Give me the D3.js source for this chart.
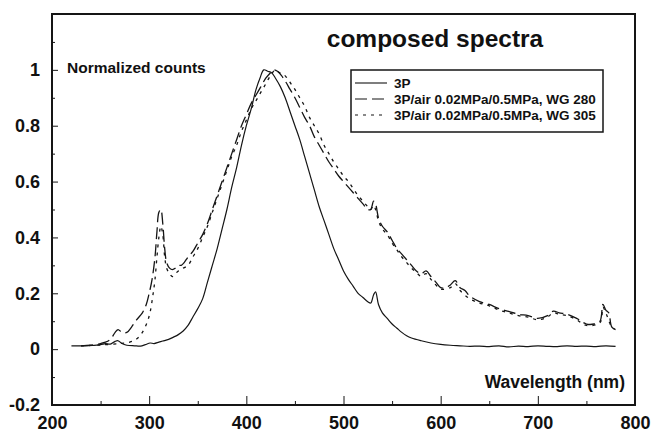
<!DOCTYPE html>
<html><head><meta charset="utf-8">
<script src="https://cdn.jsdelivr.net/npm/d3@7/dist/d3.min.js"></script>
<style>
body{margin:0;background:#fff}
text{font-family:"Liberation Sans",Arial,Helvetica,sans-serif;font-weight:bold;fill:#111}
</style>
</head><body>
<svg id="chart" width="652" height="432"></svg>
<script>
// ---- data ----
const seriesNames = ["3P", "3P/air 0.02MPa/0.5MPa, WG 280", "3P/air 0.02MPa/0.5MPa, WG 305"];

const wl3P = [220,230,240,250,255,260,265,268,272,277,285,291,296,301,305,310,314,320,325,330,335,340,345,350,355,360,365,370,375,380,385,390,395,400,405,410,414,418,422,426,430,435,440,445,450,455,460,465,470,475,480,485,490,495,500,505,510,515,520,525,528,531,533,536,540,545,550,555,560,565,570,580,590,600,610,620,630,640,650,660,670,680,690,700,710,720,730,740,750,760,770,780];
const val3P = [.012,.012,.013,.016,.02,.018,.028,.03,.02,.014,.012,.011,.016,.022,.02,.025,.029,.035,.043,.052,.065,.085,.115,.145,.18,.24,.30,.36,.43,.50,.58,.65,.73,.80,.86,.93,.97,1.0,.995,.99,.97,.94,.90,.85,.80,.75,.69,.63,.57,.51,.46,.41,.36,.32,.28,.25,.225,.20,.185,.17,.165,.195,.205,.16,.13,.11,.09,.075,.06,.048,.04,.03,.022,.017,.014,.012,.01,.011,.009,.012,.008,.011,.009,.012,.01,.009,.012,.01,.011,.009,.012,.01];

const wl280 = [230,240,250,255,260,265,268,272,277,282,287,293,297,300,303,306,308,310,312,314,316,318,321,324,327,330,333,336,340,345,350,355,360,365,370,375,380,385,390,395,400,405,410,415,420,425,428,432,436,440,445,450,455,460,465,470,475,480,485,490,495,500,505,510,515,520,525,528,531,533,536,540,545,550,555,560,565,570,575,580,585,590,595,600,605,610,615,620,625,630,640,650,660,670,680,690,700,710,716,722,730,740,750,758,764,767,770,773,776,780];
const val280 = [.012,.014,.02,.025,.035,.06,.07,.06,.06,.08,.105,.13,.16,.2,.25,.33,.42,.49,.50,.45,.36,.31,.29,.285,.29,.30,.30,.31,.33,.35,.38,.41,.45,.50,.55,.60,.65,.70,.75,.80,.84,.88,.91,.94,.97,.99,1.0,.995,.98,.96,.93,.90,.865,.83,.80,.76,.73,.70,.67,.645,.62,.60,.58,.56,.54,.52,.50,.50,.53,.52,.47,.44,.42,.39,.36,.34,.32,.30,.28,.27,.28,.26,.24,.22,.22,.23,.245,.22,.21,.19,.17,.16,.145,.135,.125,.12,.11,.12,.136,.13,.125,.11,.09,.09,.10,.16,.14,.13,.08,.07];

const wl305 = [230,250,270,280,287,293,298,301,304,306,308,310,312,314,316,318,321,324,327,330,335,340,345,350,355,360,365,370,375,380,385,390,395,400,405,410,415,420,425,430,434,438,442,446,450,455,460,465,470,475,480,485,490,495,500,505,510,515,520,525,528,531,533,536,540,545,550,555,560,565,570,575,580,585,590,595,600,610,615,620,630,640,650,660,670,680,690,700,710,716,722,730,740,750,764,767,770,776,780];
const val305 = [.012,.015,.02,.025,.036,.06,.097,.133,.197,.25,.33,.40,.44,.41,.33,.29,.27,.26,.27,.28,.29,.30,.33,.36,.40,.44,.49,.54,.59,.64,.69,.73,.78,.82,.86,.89,.92,.95,.98,1.0,.99,.985,.97,.95,.93,.90,.87,.83,.80,.77,.73,.70,.67,.645,.62,.60,.575,.55,.53,.51,.50,.515,.50,.46,.43,.41,.38,.355,.33,.31,.29,.275,.26,.27,.25,.23,.215,.22,.235,.21,.18,.165,.155,.14,.13,.12,.115,.105,.115,.13,.125,.12,.105,.085,.095,.15,.13,.08,.07];

const xTickValues = [200,300,400,500,600,700,800];
const xMinorTicks = [250,350,450,550,650,750];
const yTickValues = [-0.2,0,0.2,0.4,0.6,0.8,1];
const yMinorTicks = [-0.1,0.1,0.3,0.5,0.7,0.9,1.1];

const titleText = "composed spectra";
const yTitle = "Normalized counts";
const xTitle = "Wavelength (nm)";

// ---- layout ----
const svg = d3.select("#chart");
const L = 52, R = 635, T = 14, B = 405;
const x = d3.scaleLinear().domain([200, 800]).range([L, R]);
const y = d3.scaleLinear().domain([-0.2, 1.2]).range([B, T]);
const ink = "#151515";

function tickAxis(axis, tr) {
  const g = svg.append("g").attr("transform", tr).call(axis);
  g.select(".domain").remove();
  g.selectAll("line").attr("stroke", ink).attr("stroke-width", 1);
  g.selectAll("text").remove();
}
tickAxis(d3.axisBottom(x).tickValues(xTickValues).tickSize(-9), `translate(0,${B})`);
tickAxis(d3.axisBottom(x).tickValues(xMinorTicks).tickSize(-4), `translate(0,${B})`);
tickAxis(d3.axisLeft(y).tickValues(yTickValues).tickSize(-6), `translate(${L},0)`);
tickAxis(d3.axisLeft(y).tickValues(yMinorTicks).tickSize(-3), `translate(${L},0)`);

const fmt = d => (Math.abs(d) < 1e-9 ? "0" : String(+d.toFixed(1)));
const gx = svg.append("g").attr("transform", `translate(0,${B})`)
  .call(d3.axisBottom(x).tickValues(xTickValues).tickSize(0).tickPadding(11).tickFormat(d => d));
gx.select(".domain").remove();
gx.selectAll("text").attr("font-size", 18).attr("fill", ink)
  .attr("font-family", '"Liberation Sans",Arial,sans-serif').attr("font-weight", "bold");
const gy = svg.append("g").attr("transform", `translate(${L},0)`)
  .call(d3.axisLeft(y).tickValues(yTickValues).tickSize(0).tickPadding(12).tickFormat(fmt));
gy.select(".domain").remove();
gy.selectAll("text").attr("font-size", 18).attr("fill", ink)
  .attr("font-family", '"Liberation Sans",Arial,sans-serif').attr("font-weight", "bold");

svg.append("rect").attr("x", L).attr("y", T).attr("width", R - L).attr("height", B - T)
  .attr("fill", "none").attr("stroke", ink).attr("stroke-width", 2);

const styles = [
  {dash: null, w: 1.2},
  {dash: "12,5", w: 1.3},
  {dash: "3,5", w: 1.3}
];
const series = [
  d3.zip(wl3P, val3P),
  d3.zip(wl280, val280),
  d3.zip(wl305, val305)
];
const line = d3.line().x(d => x(d[0])).y(d => y(d[1])).curve(d3.curveCatmullRom.alpha(0.5));
series.forEach((s, i) => {
  svg.append("path").datum(s).attr("d", line).attr("fill", "none")
    .attr("stroke", ink).attr("stroke-width", styles[i].w)
    .attr("stroke-dasharray", styles[i].dash);
});

svg.append("text").attr("x", 435).attr("y", 47).attr("text-anchor", "middle")
  .attr("font-size", 24.5).text(titleText);
svg.append("text").attr("x", 67).attr("y", 73).attr("font-size", 15.5).text(yTitle);
svg.append("text").attr("x", 625).attr("y", 388).attr("text-anchor", "end")
  .attr("font-size", 17.5).text(xTitle);

const lg = svg.append("g");
lg.append("rect").attr("x", 351).attr("y", 70).attr("width", 252).attr("height", 62)
  .attr("fill", "#fff").attr("stroke", ink).attr("stroke-width", 1.5);
const rowY = [83, 99, 115];
seriesNames.forEach((n, i) => {
  lg.append("line").attr("x1", 355).attr("x2", 387).attr("y1", rowY[i]).attr("y2", rowY[i])
    .attr("stroke", ink).attr("stroke-width", 1.1).attr("stroke-dasharray", styles[i].dash);
  lg.append("text").attr("x", 394).attr("y", rowY[i] + 5).attr("font-size", 13.5).text(n);
});
</script>
</body></html>
